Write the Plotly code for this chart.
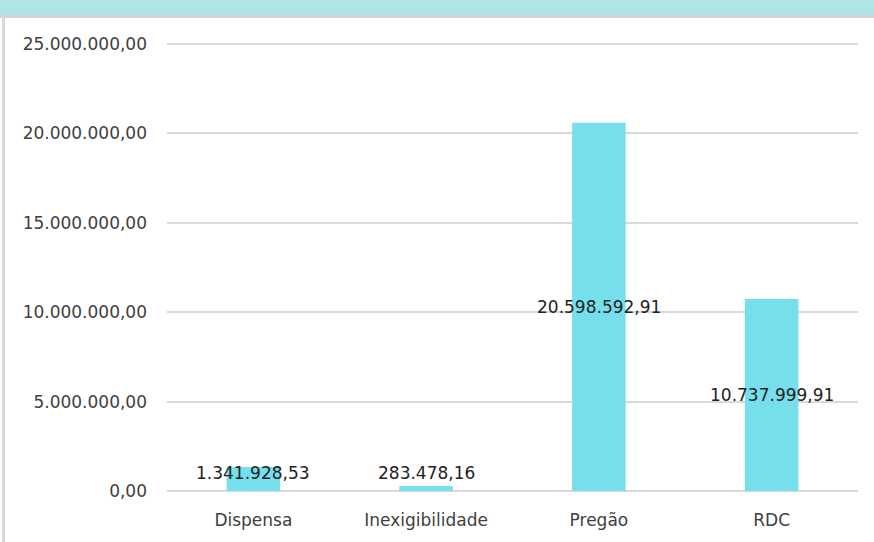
import plotly.graph_objects as go

categorias = ['Dispensa', 'Inexigibilidade', 'Pregão', 'RDC']
valores = [1341928.53, 283478.16, 20598592.91, 10737999.91]
y_ticks = [0, 5000000, 10000000, 15000000, 20000000, 25000000]


def fmt_br(v):
    return f"{v:,.2f}".replace(',', 'X').replace('.', ',').replace('X', '.')


W, H = 874, 542
m_l, m_r, m_t, m_b = 167, 16, 43, 51
plot_h = H - m_t - m_b

fig = go.Figure()
fig.add_trace(go.Bar(
    x=categorias, y=valores,
    marker_color='#76DFEC', marker_line_width=0,
    hoverinfo='skip'
))

# rótulos de dados no centro da barra (mínimo para barras baixas)
piso = 1000000
for c, v in zip(categorias, valores):
    fig.add_annotation(
        x=c, y=max(v / 2, piso), text=fmt_br(v), showarrow=False,
        font=dict(family='DejaVu Sans', size=17, color='#222222'),
        xanchor='center', yanchor='middle'
    )

# faixa do cabeçalho e borda esquerda
top_px = lambda px: 1 + (m_t - px) / plot_h
fig.add_shape(type='rect', xref='paper', yref='paper',
              x0=-m_l / (W - m_l - m_r), x1=1 + m_r / (W - m_l - m_r),
              y0=top_px(15), y1=top_px(-2),
              fillcolor='#AEE6E7', line_width=0, layer='below')
fig.add_shape(type='line', xref='paper', yref='paper',
              x0=-m_l / (W - m_l - m_r), x1=1 + m_r / (W - m_l - m_r),
              y0=top_px(16.5), y1=top_px(16.5),
              line=dict(color='#D4D4D4', width=3))
fig.add_shape(type='line', xref='paper', yref='paper',
              x0=-(m_l - 3.5) / (W - m_l - m_r), x1=-(m_l - 3.5) / (W - m_l - m_r),
              y0=top_px(18), y1=top_px(H + 2),
              line=dict(color='#D9D9D9', width=3))

fig.update_layout(
    width=W, height=H,
    margin=dict(l=m_l, r=m_r, t=m_t, b=m_b),
    plot_bgcolor='white', paper_bgcolor='white',
    separators=',.',
    showlegend=False,
    bargap=0.69,
    font=dict(family='DejaVu Sans', size=17, color='#404040'),
    xaxis=dict(showgrid=False, showline=False, ticks='',
               ticklabelstandoff=17),
    yaxis=dict(range=[0, 25060000], tickvals=y_ticks, tickformat=',.2f',
               showgrid=True, gridcolor='#D9D9D9', gridwidth=1.5,
               zeroline=True, zerolinecolor='#D9D9D9', zerolinewidth=1.5,
               showline=False, ticks='', ticklabelstandoff=19),
)

fig.write_html("out.html", config={'displayModeBar': False},
               post_script="document.body.style.margin='0';")
